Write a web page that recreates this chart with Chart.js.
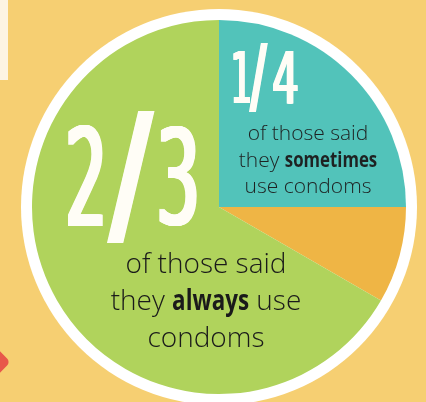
<!DOCTYPE html>
<html>
<head>
<meta charset="utf-8">
<script src="https://cdn.jsdelivr.net/npm/chart.js@4/dist/chart.umd.min.js"></script>
<style>
  html, body { margin: 0; padding: 0; background: #F6CF72; }
  canvas { display: block; }
</style>
</head>
<body>
<canvas id="pieChart" width="426" height="402"></canvas>
<script>
// share of respondents, in twelfths, clockwise from 12 o'clock
const categories = ['sometimes', 'other', 'always'];
const shares     = [3, 1, 8];
const colors     = ['#52C3BA', '#EFB545', '#B0D35C'];

const bigLabels  = ['1/4', '2/3'];

const BG = '#F6CF72';

// draws one glyph stretched into a box (condensed poster type);
// `fat` smears it sideways so the squeezed stems keep their weight
function glyphBox(ctx, ch, font, left, top, w, h, color, fat) {
  ctx.save();
  ctx.font = font;
  const m = ctx.measureText(ch);
  const gw = m.actualBoundingBoxLeft + m.actualBoundingBoxRight;
  const gh = m.actualBoundingBoxAscent + m.actualBoundingBoxDescent;
  ctx.fillStyle = color;
  ctx.textBaseline = 'alphabetic';
  ctx.textAlign = 'left';
  for (let k = 0; k <= fat; k += 0.5) {
    ctx.save();
    ctx.translate(left + k, top);
    ctx.scale((w - fat) / gw, h / gh);
    ctx.fillText(ch, m.actualBoundingBoxLeft, m.actualBoundingBoxAscent);
    ctx.restore();
  }
  ctx.restore();
}

// a centred line made of normal and bold (condensed) runs
function richLine(ctx, parts, cx, y, size, color) {
  const light = `300 ${size}px "Open Sans"`;
  const bold  = `700 ${size}px "Open Sans"`;
  const squeeze = 0.8;
  let total = 0;
  const widths = parts.map(p => {
    ctx.font = p.b ? bold : light;
    const w = ctx.measureText(p.t).width * (p.b ? squeeze : 1);
    total += w;
    return w;
  });
  let x = cx - total / 2;
  ctx.fillStyle = color;
  ctx.textBaseline = 'alphabetic';
  ctx.textAlign = 'left';
  parts.forEach((p, i) => {
    ctx.save();
    ctx.font = p.b ? bold : light;
    ctx.translate(x, y);
    if (p.b) ctx.scale(squeeze, 1);
    ctx.fillText(p.t, 0, 0);
    ctx.restore();
    x += widths[i];
  });
}

const backdrop = {
  id: 'backdrop',
  beforeDraw(chart) {
    const ctx = chart.ctx;
    ctx.save();
    ctx.fillStyle = BG;
    ctx.fillRect(0, 0, chart.width, chart.height);
    // cream card edge, top left
    ctx.fillStyle = '#FDF4E2';
    ctx.fillRect(0, 0, 8, 80);
    // red marker peeking in, bottom left
    ctx.translate(-12, 362);
    ctx.rotate(Math.PI / 4);
    ctx.fillStyle = '#E8574A';
    ctx.beginPath();
    ctx.roundRect(-16, -16, 32, 32, 5);
    ctx.fill();
    ctx.restore();
  },
  beforeDatasetsDraw(chart) {
    const arc = chart.getDatasetMeta(0).data[0];
    const ctx = chart.ctx;
    ctx.save();
    ctx.fillStyle = '#FFFFFF';
    ctx.beginPath();
    ctx.arc(arc.x, arc.y, arc.outerRadius + 11, 0, Math.PI * 2);
    ctx.fill();
    ctx.restore();
  }
};

const labels = {
  id: 'labels',
  afterDatasetsDraw(chart) {
    const ctx = chart.ctx;
    const arc = chart.getDatasetMeta(0).data[0];
    const cx = arc.x, cy = arc.y;
    const numFont = '400 140px "DejaVu Sans Condensed", "DejaVu Sans", sans-serif';
    const white = '#FFFDF6';

    // 1/4
    const q = bigLabels[0];
    glyphBox(ctx, q[0], numFont, cx + 14, cy - 157, 17, 53, white, 2.5);
    glyphBox(ctx, q[1], numFont, cx + 30, cy - 165, 19, 70, white, 3);
    glyphBox(ctx, q[2], numFont, cx + 54, cy - 157, 25, 53, white, 2.5);

    // 2/3
    const t = bigLabels[1];
    glyphBox(ctx, t[0], numFont, cx - 151, cy - 82, 35, 101, white, 4.5);
    glyphBox(ctx, t[1], numFont, cx - 112, cy - 97, 48, 133, white, 6);
    glyphBox(ctx, t[2], numFont, cx - 60, cy - 82, 38, 101, white, 4.5);

    const dark = '#1E2222';
    richLine(ctx, [{ t: 'of those said' }], cx + 89, cy - 67, 21, dark);
    richLine(ctx, [{ t: 'they ' }, { t: 'sometimes', b: true }], cx + 89, cy - 40, 21, dark);
    richLine(ctx, [{ t: 'use condoms' }], cx + 89, cy - 14, 21, dark);

    richLine(ctx, [{ t: 'of those said' }], cx - 13, cy + 66, 28, '#1A1A1A');
    richLine(ctx, [{ t: 'they ' }, { t: 'always', b: true }, { t: ' use' }], cx - 13, cy + 103, 28, '#1A1A1A');
    richLine(ctx, [{ t: 'condoms' }], cx - 13, cy + 140, 28, '#1A1A1A');
  }
};

new Chart(document.getElementById('pieChart'), {
  type: 'pie',
  data: {
    labels: categories,
    datasets: [{
      data: shares,
      backgroundColor: colors,
      borderWidth: 0
    }]
  },
  options: {
    responsive: false,
    animation: false,
    devicePixelRatio: 1,
    radius: 187,
    layout: { padding: { left: 12, top: 12, right: 0, bottom: 0 } },
    plugins: {
      legend: { display: false },
      tooltip: { enabled: false }
    }
  },
  plugins: [backdrop, labels]
});
</script>
</body>
</html>
